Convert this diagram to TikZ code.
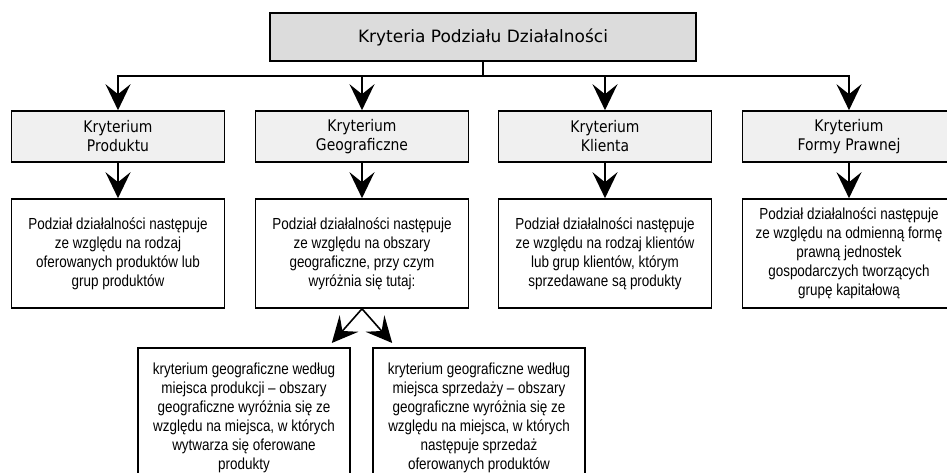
\documentclass[tikz,border=0pt]{standalone}
\usepackage{fontspec}
\usepackage{tikz}
\usetikzlibrary{arrows.meta,positioning,calc}
\newfontfamily\titlefont{DejaVu Sans}
\newfontfamily\kritfont[FakeStretch=0.87]{DejaVu Sans}
\newfontfamily\bodyfont[FakeStretch=0.84]{Liberation Sans}

\begin{document}
\begin{tikzpicture}[x=1pt, y=-1pt, line width=1.6pt, >={Stealth[length=26pt,width=25pt,inset=10pt]}]
	\definecolor{maincolor}{RGB}{220,220,220}
	\definecolor{critcolor}{RGB}{240,240,240}
	\tikzstyle{main}=[rectangle, draw=black, fill=maincolor, minimum width=426pt, minimum height=48pt, font=\titlefont\fontsize{17}{20}\selectfont]
	\tikzstyle{crit}=[rectangle, draw=black, fill=critcolor, minimum width=213pt, minimum height=51pt, align=center, font=\kritfont\fontsize{16}{19}\selectfont]
	\tikzstyle{desc}=[rectangle, draw=black, fill=white, minimum width=213pt, minimum height=109pt, align=center, font=\bodyfont\fontsize{16}{19}\selectfont]
	\tikzstyle{sub}=[desc, minimum width=212pt, minimum height=140pt, anchor=north]
	\def\critrow{136.5}
	\def\descrow{253.5}

	\useasboundingbox (0,0) rectangle (947,473);
	\clip (0,0) rectangle (947,473);

	% Top box
	\node[main] (main) at (483,37) {Kryteria Podziału Działalności};
	% Criteria boxes
	\foreach \name/\x/\txt in {1/118/{Kryterium\\Produktu}, 2/362/{Kryterium\\Geograficzne}, 3/605/{Kryterium\\Klienta}, 4/849/{Kryterium\\Formy Prawnej}}
	\node[crit] (K-\name) at (\x,\critrow) {\txt};
	% Description boxes
	\node[desc] (D-1) at (118,\descrow) {Podział działalności następuje\\ze względu na rodzaj\\oferowanych produktów lub\\grup produktów};
	\node[desc] (D-2) at (362,\descrow) {Podział działalności następuje\\ze względu na obszary\\geograficzne, przy czym\\wyróżnia się tutaj:};
	\node[desc] (D-3) at (605,\descrow) {Podział działalności następuje\\ze względu na rodzaj klientów\\lub grup klientów, którym\\sprzedawane są produkty};
	\node[desc] (D-4) at (849,\descrow) {Podział działalności następuje\\ze względu na odmienną formę\\prawną jednostek\\gospodarczych tworzących\\grupę kapitałową};
	% Geographic sub-criteria
	\node[sub] (G-1) at (244,347) {kryterium geograficzne według\\miejsca produkcji – obszary\\geograficzne wyróżnia się ze\\względu na miejsca, w których\\wytwarza się oferowane\\produkty};
	\node[sub] (G-2) at (479,347) {kryterium geograficzne według\\miejsca sprzedaży – obszary\\geograficzne wyróżnia się ze\\względu na miejsca, w których\\następuje sprzedaż\\oferowanych produktów};

	% Connect the top box with every criterion
	\foreach \name in {1,...,4}
	 \draw[->] (main.south) -- ++(0,14) -| (K-\name.north);
	% Connect every criterion with its description
	\foreach \name in {1,...,4}
	 \draw[->] (K-\name.south) -- (D-\name.north);
	% Split of the geographic criterion
	\draw[->] (D-2.south) -- ([xshift=-19pt,yshift=4pt]G-1.north east);
	\draw[->] (D-2.south) -- ([xshift=20pt,yshift=4pt]G-2.north west);
\end{tikzpicture}
\end{document}
